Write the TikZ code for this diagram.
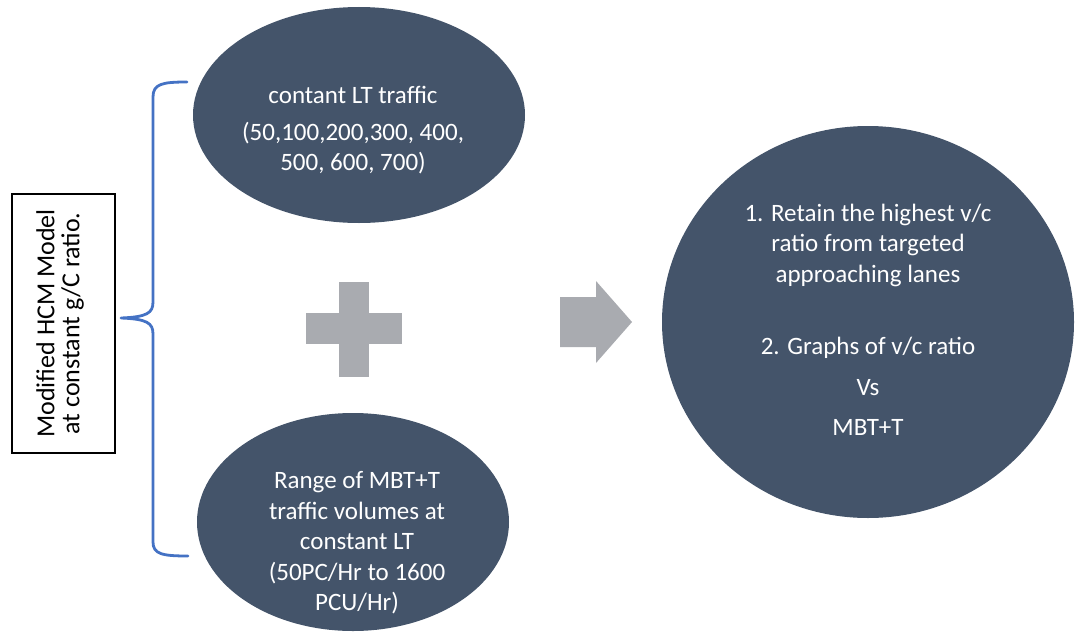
\documentclass[tikz,border=0pt]{standalone}
\usepackage{fontspec}
\setmainfont{Carlito}
\usetikzlibrary{shapes.geometric}
\definecolor{slate}{HTML}{44546A}
\definecolor{markgray}{HTML}{A9ABB0}
\definecolor{braceblue}{HTML}{4472C4}
\begin{document}
\begin{tikzpicture}[x=1pt,y=-1pt,
  blob/.style={ellipse,fill=slate,draw=none,inner sep=0pt},
  wtext/.style={text=white,align=center,font=\fontsize{25}{30.5}\selectfont,inner sep=0pt},
  symbolfill/.style={fill=markgray,draw=none}]
\useasboundingbox (0,0) rectangle (1075,634);

% input ellipses
\node[blob,minimum width=332,minimum height=216] (lt) at (359,115) {};
\node[blob,minimum width=312,minimum height=218] (mbt) at (353,522) {};
% result ellipse
\node[blob,minimum width=412,minimum height=392] (res) at (868,322) {};

% texts
\node[wtext] (ltA) at (353,95) {contant LT traffic};
\node[wtext] (ltB) at (353,148) {(50,100,200,300, 400,\\500, 600, 700)};
\node[wtext] (mbtT) at (357,543) {Range of MBT+T\\traffic volumes at\\constant LT\\(50PC/Hr to 1600\\PCU/Hr)};
\node[wtext] (resA) at (868,245) {1. Retain the highest v/c\\ratio from targeted\\approaching lanes};
\node[wtext] (resB) at (868,348) {2. Graphs of v/c ratio};
\node[wtext] (resC) at (868,388) {Vs};
\node[wtext] (resD) at (868,427) {MBT+T};

% plus sign
\fill[symbolfill] (339,282) rectangle (369,377);
\fill[symbolfill] (306,313) rectangle (402,344);
% block arrow
\fill[symbolfill] (560,297) -- (596,297) -- (596,281) -- (632,322)
  -- (596,363) -- (596,347) -- (560,347) -- cycle;

% model box with rotated label
\draw[black,line width=1.6pt] (12,194) rectangle (115,453);
\node[rotate=90,align=center,inner sep=0pt,
  font=\fontsize{26}{25}\selectfont] (model) at (60,323.5)
  {Modified HCM Model\\at constant g/C ratio.};

% curly brace
\draw[braceblue,line width=2.8pt,line cap=round,line join=round]
  (187,82) .. controls (162,82) and (153,84) .. (153,97)
  -- (153,302) .. controls (153,313) and (147,317) .. (121,318)
  .. controls (147,319) and (153,323) .. (153,334)
  -- (153,542) .. controls (153,554) and (162,556) .. (188,556);
\end{tikzpicture}
\end{document}
